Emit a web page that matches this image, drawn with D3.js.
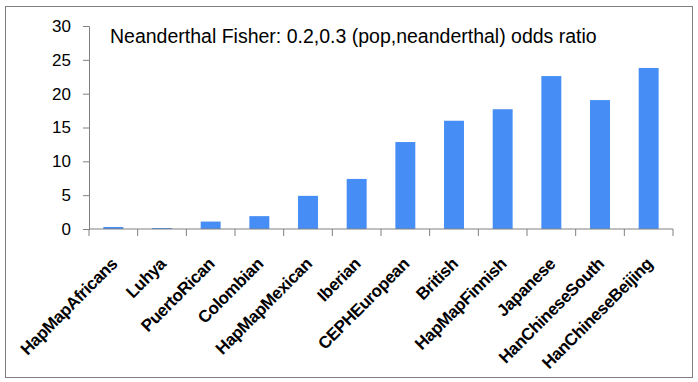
<!DOCTYPE html>
<html>
<head>
<meta charset="utf-8">
<script src="https://cdn.jsdelivr.net/npm/d3@7"></script>
<style>
  body { margin: 0; background: #fff; }
  svg { display: block; font-family: "Liberation Sans", Arial, sans-serif; }
</style>
</head>
<body>
<svg width="698" height="382"></svg>
<script>
const populations = ["HapMapAfricans", "Luhya", "PuertoRican", "Colombian", "HapMapMexican", "Iberian",
    "CEPHEuropean", "British", "HapMapFinnish", "Japanese", "HanChineseSouth", "HanChineseBeijing"];
const oddsRatio = [0.3, 0.15, 1.1, 1.9, 4.9, 7.4, 12.85, 16.0, 17.7, 22.6, 19.05, 23.8];
const yTicks = [0, 5, 10, 15, 20, 25, 30];
const title = "Neanderthal Fisher: 0.2,0.3 (pop,neanderthal) odds ratio";

const svg = d3.select("svg");
const margin = {left: 89, right: 25, top: 26, bottom: 153};
const width = +svg.attr("width") - margin.left - margin.right;
const height = +svg.attr("height") - margin.top - margin.bottom;

// outer frame
svg.append("rect")
    .attr("x", 5.5).attr("y", 6.5)
    .attr("width", 687).attr("height", 371)
    .attr("fill", "none")
    .attr("stroke", "#808080")
    .attr("stroke-width", 1);

const g = svg.append("g").attr("transform", `translate(${margin.left},${margin.top})`);

const x = d3.scaleBand().domain(populations).range([0, width]).paddingInner(0.59).paddingOuter(0.295);
const y = d3.scaleLinear().domain([0, 30]).range([height, 0]);

// bars
g.selectAll("rect.bar")
    .data(populations)
    .join("rect")
    .attr("class", "bar")
    .attr("x", d => x(d))
    .attr("width", x.bandwidth())
    .attr("y", (d, i) => y(oddsRatio[i]))
    .attr("height", (d, i) => height - y(oddsRatio[i]))
    .attr("fill", "#468ef5");

// y axis
const yAxis = g.append("g")
    .call(d3.axisLeft(y).tickValues(yTicks).tickSize(6).tickPadding(12).tickFormat(d3.format("d")));
yAxis.select(".domain").attr("stroke", "#808080");
yAxis.selectAll(".tick line").attr("stroke", "#808080");
yAxis.selectAll("text").attr("font-size", 17).attr("fill", "#000").attr("font-family", "Liberation Sans, Arial, sans-serif");

// x axis: ticks at band boundaries
const boundaries = d3.range(populations.length + 1).map(i => i * width / populations.length);
const xg = g.append("g").attr("transform", `translate(0,${height})`);
xg.append("line")
    .attr("x1", 0).attr("x2", width)
    .attr("stroke", "#808080");
xg.selectAll("line.tk")
    .data(boundaries)
    .join("line")
    .attr("class", "tk")
    .attr("x1", d => d).attr("x2", d => d)
    .attr("y1", 0).attr("y2", 7)
    .attr("stroke", "#808080");

xg.selectAll("text")
    .data(populations)
    .join("text")
    .attr("transform", d => `translate(${x(d) + x.bandwidth() / 2 + 5},${36}) rotate(-45)`)
    .attr("text-anchor", "end")
    .attr("font-size", 17)
    .attr("font-weight", "bold")
    .attr("letter-spacing", -0.4)
    .text(d => d);

// title
svg.append("text")
    .attr("x", 110)
    .attr("y", 43)
    .attr("font-size", 19.5)
    .text(title);
</script>
</body>
</html>
